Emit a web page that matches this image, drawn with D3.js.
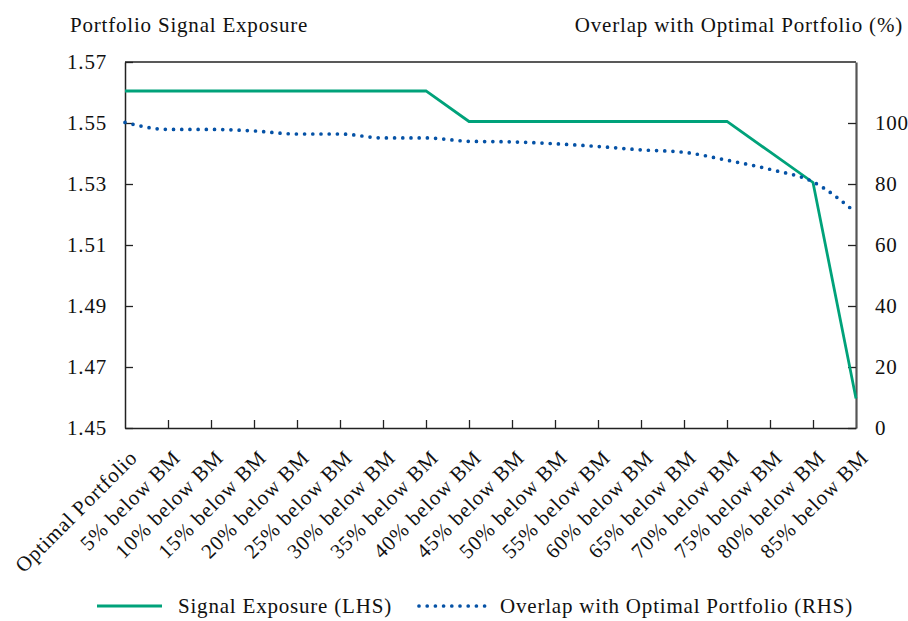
<!DOCTYPE html>
<html>
<head>
<meta charset="utf-8">
<script src="https://cdn.jsdelivr.net/npm/d3@7"></script>
<style>
  html, body { margin: 0; padding: 0; background: #fff; }
  svg text { font-family: "Palatino Linotype", "Book Antiqua", Palatino, "Liberation Serif", serif; font-size: 21px; letter-spacing: 0.8px; fill: #111; }
</style>
</head>
<body>
<svg id="chart" width="908" height="621"></svg>
<script>
const categories = ["Optimal Portfolio", "5% below BM", "10% below BM", "15% below BM", "20% below BM",
  "25% below BM", "30% below BM", "35% below BM", "40% below BM", "45% below BM", "50% below BM",
  "55% below BM", "60% below BM", "65% below BM", "70% below BM", "75% below BM", "80% below BM", "85% below BM"];
const signalExposure = [1.5605, 1.5605, 1.5605, 1.5605, 1.5605, 1.5605, 1.5605, 1.5605,
  1.5505, 1.5505, 1.5505, 1.5505, 1.5505, 1.5505, 1.5505, 1.5405, 1.5305, 1.4597];
const overlapPct = [100.2, 97.9, 97.9, 97.4, 96.4, 96.4, 95.1, 95.1, 94.0, 93.8, 93.2, 92.3,
  91.2, 90.4, 87.8, 84.8, 80.7, 70.6];
const leftTicks = [1.45, 1.47, 1.49, 1.51, 1.53, 1.55, 1.57];
const rightTicks = [0, 20, 40, 60, 80, 100];
const leftTitle = "Portfolio Signal Exposure";
const rightTitle = "Overlap with Optimal Portfolio (%)";
const legendLabels = ["Signal Exposure (LHS)", "Overlap with Optimal Portfolio (RHS)"];

const svg = d3.select("#chart");
const L = 125, R = 856, T = 62, B = 428;
const green = "#00a27a", blue = "#0552a6";

const x = d3.scalePoint().domain(categories).range([L, R]).padding(0);
const yL = d3.scaleLinear().domain([1.45, 1.57]).range([B, T]);
const yR = d3.scaleLinear().domain([0, 120]).range([B, T]);

// top border
svg.append("line").attr("x1", L).attr("x2", R).attr("y1", T).attr("y2", T)
  .attr("stroke", "#222").attr("stroke-width", 1.5);

// left axis
const gL = svg.append("g").attr("transform", `translate(${L},0)`)
  .call(d3.axisLeft(yL).tickValues(leftTicks).tickFormat(d3.format(".2f")).tickSize(-8).tickSizeOuter(0).tickPadding(18));
gL.select(".domain").attr("stroke", "#222").attr("stroke-width", 1.5);
gL.selectAll(".tick line").attr("stroke", "#222").attr("stroke-width", 1.3);
gL.selectAll("text").attr("font-size", null).attr("font-family", null).attr("fill", null);

// right axis
const gR = svg.append("g").attr("transform", `translate(${R},0)`)
  .call(d3.axisRight(yR).tickValues(rightTicks).tickSize(-8).tickSizeOuter(0).tickPadding(19));
gR.select(".domain").attr("stroke", "#555").attr("stroke-width", 2.2);
gR.selectAll(".tick line").attr("stroke", "#222").attr("stroke-width", 1.3);
gR.selectAll("text").attr("font-size", null).attr("font-family", null).attr("fill", null);

// bottom axis
const gB = svg.append("g").attr("transform", `translate(0,${B})`)
  .call(d3.axisBottom(x).tickSize(-8).tickSizeOuter(0).tickPadding(0));
gB.select(".domain").attr("stroke", "#222").attr("stroke-width", 1.5);
gB.selectAll(".tick line").attr("stroke", "#222").attr("stroke-width", 1.3)
  .filter(d => d === categories[0] || d === categories[categories.length - 1]).remove();
gB.selectAll("text").attr("font-size", null).attr("font-family", null).attr("fill", null)
  .attr("text-anchor", "end").attr("dy", null).attr("y", 0)
  .attr("transform", "translate(13,31) rotate(-45)");

// titles
svg.append("text").attr("x", 70).attr("y", 32).text(leftTitle);
svg.append("text").attr("x", 903).attr("y", 32).attr("text-anchor", "end").text(rightTitle);

// lines
const lineL = d3.line().x((d, i) => x(categories[i])).y(d => yL(d));
svg.append("path").datum(signalExposure).attr("d", lineL)
  .attr("fill", "none").attr("stroke", green).attr("stroke-width", 2.8).attr("stroke-linejoin", "miter");

const lineR = d3.line().x((d, i) => x(categories[i])).y(d => yR(d)).curve(d3.curveMonotoneX);
svg.append("path").datum(overlapPct).attr("d", lineR)
  .attr("fill", "none").attr("stroke", blue).attr("stroke-width", 3.7)
  .attr("stroke-linecap", "round").attr("stroke-dasharray", "0 8.2");

// legend
const ly = 606;
svg.append("line").attr("x1", 97).attr("x2", 162).attr("y1", ly).attr("y2", ly)
  .attr("stroke", green).attr("stroke-width", 2.8);
svg.append("text").attr("x", 178).attr("y", ly + 7).text(legendLabels[0]);
svg.append("line").attr("x1", 419).attr("x2", 485).attr("y1", ly).attr("y2", ly)
  .attr("stroke", blue).attr("stroke-width", 3.7).attr("stroke-linecap", "round").attr("stroke-dasharray", "0 8.2");
svg.append("text").attr("x", 500).attr("y", ly + 7).text(legendLabels[1]);
</script>
</body>
</html>
